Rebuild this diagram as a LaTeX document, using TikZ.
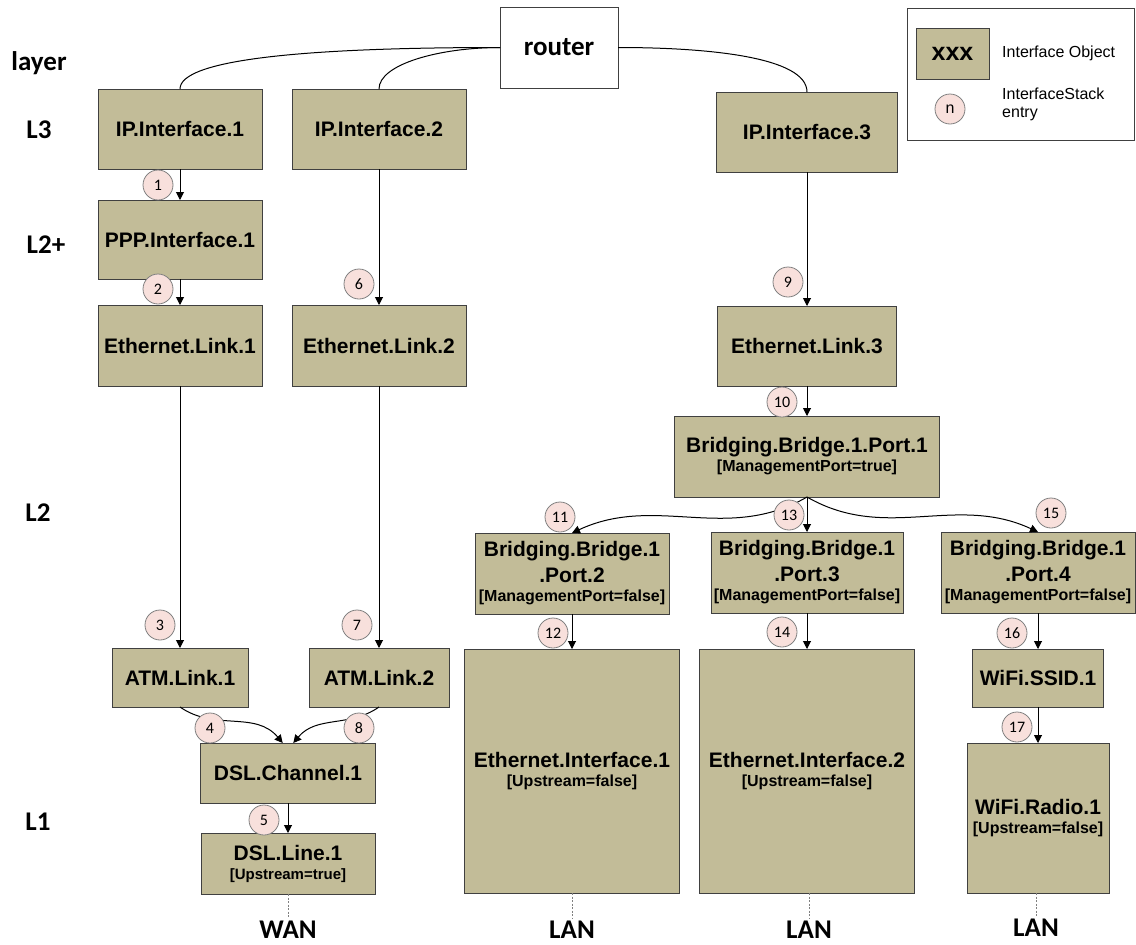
\documentclass[tikz,border=0pt]{standalone}
\usepackage{fontspec}
\setmainfont{Liberation Sans}
\newfontfamily\calibfont{Carlito}
\usetikzlibrary{arrows.meta}
\definecolor{ifacefill}{RGB}{194,188,152}
\definecolor{ifaceline}{RGB}{64,64,64}
\definecolor{stackfill}{RGB}{248,224,220}
\definecolor{stackline}{RGB}{128,128,128}
\newcommand{\attrfont}{\fontsize{16}{18}\selectfont}

\begin{document}
\begin{tikzpicture}[x=1pt,y=1pt,
    iface/.style={draw=ifaceline,fill=ifacefill,line width=1pt,inner sep=0pt,outer sep=0pt,
      align=center,font=\fontsize{21}{26}\selectfont\bfseries},
    routerbox/.style={draw=ifaceline,fill=white,line width=1pt,inner sep=0pt,outer sep=0pt,
      minimum width=118pt,minimum height=81pt,font=\calibfont\bfseries\fontsize{27}{27}\selectfont},
    stack/.style={circle,draw=stackline,fill=stackfill,line width=0.8pt,minimum size=30pt,
      inner sep=0pt,font=\calibfont\fontsize{16}{16}\selectfont},
    layer/.style={inner sep=2pt,font=\calibfont\bfseries\fontsize{27}{27}\selectfont},
    stackarrow/.style={line width=1pt,-{Triangle[width=8pt,length=8pt]}},
    lanwire/.style={draw=gray,line width=0.8pt,dash pattern=on 2pt off 1.5pt}]
  \useasboundingbox (0,0) rectangle (1136,-945);

  \node[layer] (layerhead) at (39,-63) {layer};
  \node[layer] (lthree) at (39,-130) {L3};
  \node[layer] (ltwoplus) at (46,-245) {L2+};
  \node[layer] (ltwo) at (38,-513) {L2};
  \node[layer] (lone) at (38,-822) {L1};

  \node[draw=ifaceline,line width=1pt,minimum width=227pt,minimum height=132pt] (legend) at (1020.5,-74) {};
  \node[iface,minimum width=73pt,minimum height=51pt,font=\bfseries\fontsize{25}{25}\selectfont] (legobj) at (952.5,-53.5) {xxx};
  \node[anchor=west,inner sep=0pt,font=\fontsize{16}{18}\selectfont] (legobjtext) at (1002,-53) {Interface Object};
  \node[stack,font=\fontsize{16}{16}\selectfont] (legstack) at (950,-109) {n};
  \node[anchor=west,align=left,inner sep=0pt,font=\fontsize{16}{18}\selectfont] (legstacktext) at (1002,-104) {InterfaceStack\\entry};

  \node[routerbox] (router) at (559,-47.5) {router};
  \node[iface,minimum width=164pt,minimum height=80pt] (ip1) at (180,-129) {IP.Interface.1};
  \node[iface,minimum width=174pt,minimum height=80pt] (ip2) at (379,-129) {IP.Interface.2};
  \node[iface,minimum width=181pt,minimum height=80pt] (ip3) at (807,-132) {IP.Interface.3};
  \node[iface,minimum width=164pt,minimum height=79pt] (ppp1) at (180,-239.5) {PPP.Interface.1};
  \node[iface,minimum width=164pt,minimum height=81pt] (eth1) at (180,-345.5) {Ethernet.Link.1};
  \node[iface,minimum width=174pt,minimum height=81pt] (eth2) at (379,-345.5) {Ethernet.Link.2};
  \node[iface,minimum width=179pt,minimum height=80pt] (eth3) at (807,-346) {Ethernet.Link.3};
  \node[iface,minimum width=265pt,minimum height=81pt] (port1) at (807,-456.5) {Bridging.Bridge.1.Port.1\\[-7pt]{\attrfont [ManagementPort=true]}};
  \node[iface,minimum width=194pt,minimum height=81pt] (port2) at (572,-573.5) {Bridging.Bridge.1\\.Port.2\\[-7pt]{\attrfont [ManagementPort=false]}};
  \node[iface,minimum width=192pt,minimum height=81pt] (port3) at (807,-572.5) {Bridging.Bridge.1\\.Port.3\\[-7pt]{\attrfont [ManagementPort=false]}};
  \node[iface,minimum width=194pt,minimum height=81pt] (port4) at (1038,-572.5) {Bridging.Bridge.1\\.Port.4\\[-7pt]{\attrfont [ManagementPort=false]}};
  \node[iface,minimum width=215pt,minimum height=244pt] (ethif1) at (572,-771) {Ethernet.Interface.1\\[-7pt]{\attrfont [Upstream=false]}};
  \node[iface,minimum width=215pt,minimum height=244pt] (ethif2) at (807,-771) {Ethernet.Interface.2\\[-7pt]{\attrfont [Upstream=false]}};
  \node[iface,minimum width=131pt,minimum height=58pt] (ssid1) at (1038,-678) {WiFi.SSID.1};
  \node[iface,minimum width=142pt,minimum height=150pt] (radio1) at (1038,-818) {WiFi.Radio.1\\[-7pt]{\attrfont [Upstream=false]}};
  \node[iface,minimum width=136pt,minimum height=59pt] (atm1) at (180,-677.5) {ATM.Link.1};
  \node[iface,minimum width=140pt,minimum height=59pt] (atm2) at (379,-677.5) {ATM.Link.2};
  \node[iface,minimum width=175pt,minimum height=60pt] (dslch1) at (288,-773) {DSL.Channel.1};
  \node[iface,minimum width=174pt,minimum height=61pt] (dslline1) at (288,-863.5) {DSL.Line.1\\[-7pt]{\fontsize{15}{17}\selectfont [Upstream=true]}};

  \node[layer,anchor=base] (wan) at (288,-938) {WAN};
  \node[layer,anchor=base] (lan1) at (572,-938) {LAN};
  \node[layer,anchor=base] (lan2) at (809,-938) {LAN};
  \node[layer,anchor=base] (lan3) at (1036,-936) {LAN};

  \path[line width=1pt]
    (router.west) edge[out=180,in=90,out distance=200pt,in distance=29pt] (ip1.north)
    (router.west) edge[out=180,in=90,out distance=60pt,in distance=25pt] (ip2.north)
    (router.east) edge[out=0,in=90,out distance=90pt,in distance=35pt] (ip3.north);

  \path[stackarrow]
    (ip1) edge (ppp1)
    (ppp1) edge (eth1)
    (eth1) edge (atm1)
    (ip2) edge (eth2)
    (eth2) edge (atm2)
    (dslch1) edge (dslline1)
    (ip3) edge (eth3)
    (eth3) edge (port1)
    (port1) edge (port3)
    (port2) edge (ethif1)
    (port3) edge (ethif2)
    (port4) edge (ssid1)
    (ssid1) edge (radio1)
    (port1.south) edge[out=-150,in=25] (port2.north)
    (port1.south) edge[out=-30,in=155] (port4.north)
    (atm1.south) edge[out=-35,in=130] (dslch1.100)
    (atm2.south) edge[out=-145,in=50] (dslch1.80);

  \draw[lanwire] (wan.north |- dslline1.south) -- (wan.north);
  \draw[lanwire] (lan1.north |- ethif1.south) -- (lan1.north);
  \draw[lanwire] (lan2.north |- ethif2.south) -- (lan2.north);
  \draw[lanwire] (lan3.north |- radio1.south) -- (lan3.north);

  \node[stack] (c1) at (158,-185) {1};
  \node[stack] (c2) at (158,-289) {2};
  \node[stack] (c3) at (160,-625) {3};
  \node[stack] (c4) at (210,-728) {4};
  \node[stack] (c5) at (264,-820) {5};
  \node[stack] (c6) at (359,-284) {6};
  \node[stack] (c7) at (357,-625) {7};
  \node[stack] (c8) at (359,-728) {8};
  \node[stack] (c9) at (788,-282) {9};
  \node[stack] (c10) at (782,-402) {10};
  \node[stack] (c11) at (560,-517) {11};
  \node[stack] (c12) at (553,-633) {12};
  \node[stack] (c13) at (789,-515) {13};
  \node[stack] (c14) at (782,-632) {14};
  \node[stack] (c15) at (1051,-513) {15};
  \node[stack] (c16) at (1012,-633) {16};
  \node[stack] (c17) at (1017,-727) {17};
\end{tikzpicture}
\end{document}
